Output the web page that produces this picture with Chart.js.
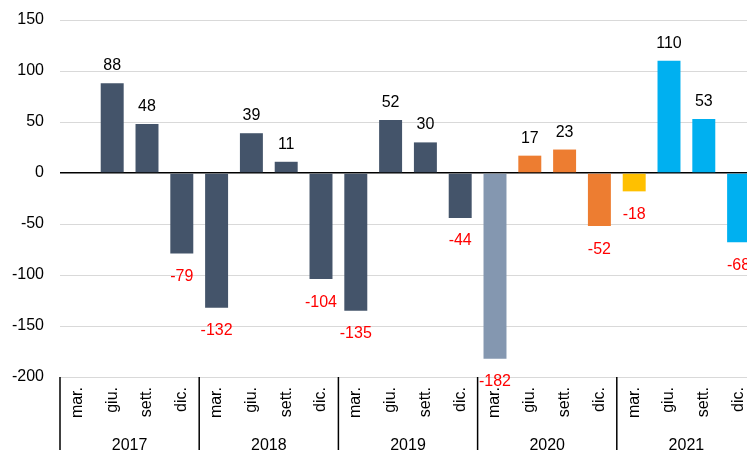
<!DOCTYPE html>
<html>
<head>
<meta charset="utf-8">
<script src="https://cdn.jsdelivr.net/npm/chart.js@4/dist/chart.umd.min.js"></script>
<style>
  html, body { margin: 0; padding: 0; background: #fff; }
  #wrap { width: 747px; height: 450px; overflow: hidden; }
</style>
</head>
<body>
<div id="wrap"><canvas id="bars" width="760" height="450"></canvas></div>
<script>
// quarters for each year
const years = ['2017', '2018', '2019', '2020', '2021'];
const quarters = ['mar.', 'giu.', 'sett.', 'dic.'];
const values = [
  null, 88, 48, -79,
  -132, 39, 11, -104,
  -135, 52, 30, -44,
  -182, 17, 23, -52,
  -18, 110, 53, -68
];
const barColors = [
  '#44546A', '#44546A', '#44546A', '#44546A',
  '#44546A', '#44546A', '#44546A', '#44546A',
  '#44546A', '#44546A', '#44546A', '#44546A',
  '#8497B0', '#ED7D31', '#ED7D31', '#ED7D31',
  '#FFC000', '#00B0F0', '#00B0F0', '#00B0F0'
];

const labels = [];
years.forEach(y => quarters.forEach(q => labels.push(q)));

const FONT = '"Liberation Sans", Arial, sans-serif';

// value labels above / below each bar
const valueLabels = {
  id: 'valueLabels',
  afterDatasetsDraw(chart) {
    const ctx = chart.ctx;
    const meta = chart.getDatasetMeta(0);
    ctx.save();
    ctx.font = '16px ' + FONT;
    ctx.textAlign = 'center';
    ctx.textBaseline = 'alphabetic';
    meta.data.forEach((bar, i) => {
      const v = values[i];
      if (v === null) return;
      if (v >= 0) {
        ctx.fillStyle = '#000';
        ctx.fillText(String(v), bar.x, bar.y - 13);
      } else {
        ctx.fillStyle = '#FF0000';
        ctx.fillText(String(v), bar.x, bar.y + 27.5);
      }
    });
    ctx.restore();
  }
};

// year groups under the quarter labels
const yearGroups = {
  id: 'yearGroups',
  afterDraw(chart) {
    const ctx = chart.ctx;
    const x = chart.scales.x;
    const half = (x.getPixelForValue(1) - x.getPixelForValue(0)) / 2;
    const top = chart.chartArea.bottom;
    ctx.save();
    ctx.strokeStyle = '#000';
    ctx.lineWidth = 1.5;
    for (let g = 0; g <= years.length; g++) {
      const idx = g * quarters.length;
      const px = x.getPixelForValue(Math.min(idx, labels.length - 1)) + (idx >= labels.length ? half : -half);
      ctx.beginPath();
      ctx.moveTo(px, top);
      ctx.lineTo(px, chart.height);
      ctx.stroke();
    }
    ctx.font = '16px ' + FONT;
    ctx.fillStyle = '#000';
    ctx.textAlign = 'center';
    ctx.textBaseline = 'alphabetic';
    years.forEach((y, g) => {
      const a = x.getPixelForValue(g * quarters.length) - half;
      const b = x.getPixelForValue(g * quarters.length + quarters.length - 1) + half;
      ctx.fillText(y, (a + b) / 2, 449.5);
    });
    ctx.restore();
  }
};

new Chart(document.getElementById('bars'), {
  type: 'bar',
  data: {
    labels: labels,
    datasets: [{
      data: values,
      backgroundColor: barColors,
      borderWidth: 0,
      barPercentage: 0.66,
      categoryPercentage: 1.0
    }]
  },
  options: {
    responsive: false,
    animation: false,
    devicePixelRatio: 1,
    layout: { padding: { top: 20, right: 4, left: 0, bottom: 0 } },
    plugins: {
      legend: { display: false },
      tooltip: { enabled: false }
    },
    scales: {
      x: {
        grid: { display: false, drawTicks: false },
        border: { display: false },
        ticks: {
          autoSkip: false,
          minRotation: 90,
          maxRotation: 90,
          padding: 10,
          color: '#000',
          font: { family: FONT, size: 16 }
        },
        afterFit: s => { s.height = 73; s.paddingLeft = 0; s.paddingRight = 0; }
      },
      y: {
        min: -200,
        max: 150,
        border: { display: false },
        grid: {
          drawTicks: false,
          color: c => c.tick && c.tick.value === 0 ? '#000' : '#D9D9D9',
          lineWidth: c => c.tick && c.tick.value === 0 ? 1.5 : 1
        },
        ticks: {
          stepSize: 50,
          padding: 16,
          color: '#000',
          font: { family: FONT, size: 16 }
        },
        afterFit: s => { s.width = 60; s.paddingTop = 0; s.paddingBottom = 0; }
      }
    }
  },
  plugins: [valueLabels, yearGroups]
});
</script>
</body>
</html>
